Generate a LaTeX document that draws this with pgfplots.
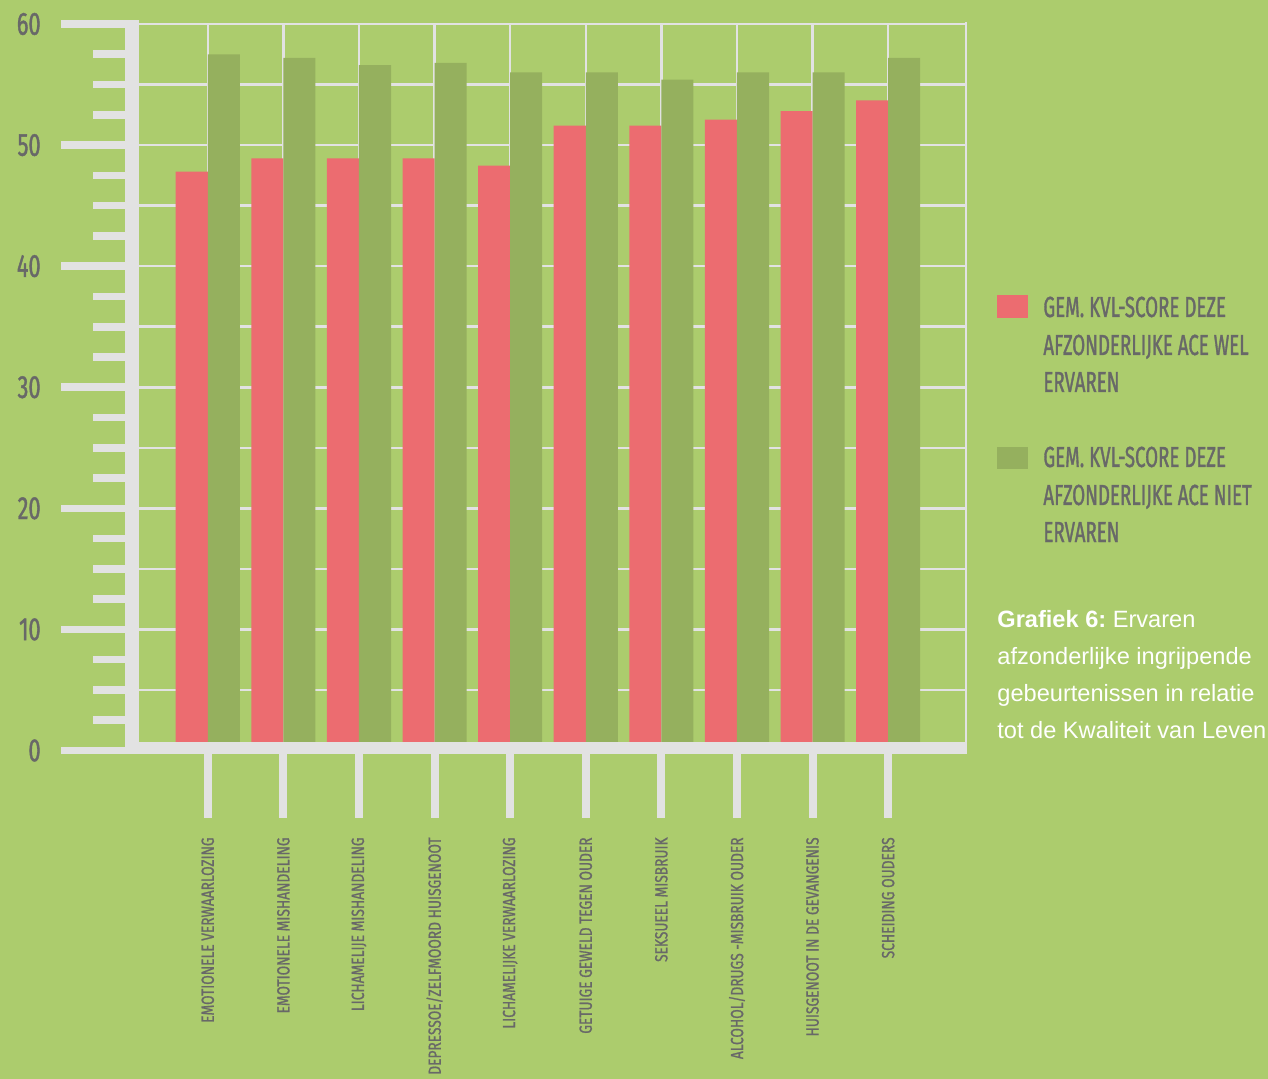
\documentclass[border=0pt]{standalone}
\usepackage{pgfplots}
\pgfplotsset{compat=1.18}
\usepackage{fontspec}
\setmainfont{Liberation Sans}
\newfontfamily\numfont[FakeStretch=0.68,FakeBold=1.2]{Fira Sans}
\newfontfamily\catfont[FakeStretch=0.78,FakeBold=1]{Fira Sans}
\newfontfamily\legfont[FakeStretch=0.645,FakeBold=1.2]{Fira Sans}
\frenchspacing

\definecolor{bg}{RGB}{172,204,109}
\definecolor{barred}{RGB}{236,108,112}
\definecolor{bargreen}{RGB}{149,176,94}
\definecolor{gridgray}{RGB}{226,226,226}
\definecolor{txt}{RGB}{104,104,104}

\begin{document}
\begin{tikzpicture}
\useasboundingbox (0,0) rectangle (634pt,-539.5pt);
\fill[bg] (0,0) rectangle (634pt,-539.5pt);

\begin{axis}[
    at={(69.5pt,-375.25pt)}, anchor=south west,
    scale only axis, width=413.5pt, height=363.25pt,
    xmin=-0.91, xmax=10.03, ymin=0, ymax=60,
    ybar=0pt, bar width=0.424,
    axis line style={draw=none},
    tick style={draw=none},
    major tick length=0pt, minor tick length=0pt,
    xtick={0,...,9},
    xticklabels={EMOTIONELE VERWAARLOZING, EMOTIONELE MISHANDELING,
        LICHAMELIJE MISHANDELING, DEPRESSOE/ZELFMOORD HUISGENOOT,
        LICHAMELIJKE VERWAARLOZING, GETUIGE GEWELD TEGEN OUDER,
        SEKSUEEL MISBRUIK, ALCOHOL/DRUGS -MISBRUIK OUDER,
        HUISGENOOT IN DE GEVANGENIS, SCHEIDING OUDERS},
    ytick={0,10,...,60}, minor ytick={5,15,...,55},
    xmajorgrids, ymajorgrids, yminorgrids,
    major grid style={line width=1.25pt, draw=gridgray},
    minor grid style={line width=1.25pt, draw=gridgray},
    xticklabel style={rotate=90, anchor=east, inner sep=0pt,
        font=\catfont\fontsize{8.8}{10}\selectfont, text=txt},
    yticklabel style={anchor=east, inner sep=0pt,
        font=\numfont\fontsize{16}{18}\selectfont, text=txt},
    xticklabel shift=43.25pt, yticklabel shift=49pt,
    /pgf/number format/assume math mode=true,
]
\addplot[fill=barred, draw=none] coordinates {
    (0,47.8) (1,48.9) (2,48.9) (3,48.9) (4,48.3)
    (5,51.6) (6,51.6) (7,52.1) (8,52.8) (9,53.7)};
\addplot[fill=bargreen, draw=none] coordinates {
    (0,57.5) (1,57.2) (2,56.6) (3,56.8) (4,56.0)
    (5,56.0) (6,55.4) (7,56.0) (8,56.0) (9,57.2)};
\end{axis}

\begin{scope}[x=0.5pt, y=-0.5pt]
  % frame, axes and tick marks
  \draw[gridgray, line width=1.25pt] (966,22) -- (966,748);
  \fill[gridgray] (125,20) rectangle (139,754);
  \fill[gridgray] (125,742) rectangle (967,754);
  \foreach \v in {10,20,...,60}
    \fill[gridgray] (61,{750.5-12.108*\v-3.8}) rectangle (125,{750.5-12.108*\v+3.8});
  \fill[gridgray] (61,747) rectangle (125,754);
  \foreach \v in {2.5,5,7.5,12.5,15,17.5,22.5,25,27.5,32.5,35,37.5,42.5,45,47.5,52.5,55,57.5}
    \fill[gridgray] (93,{750.5-12.108*\v-3.8}) rectangle (125,{750.5-12.108*\v+3.8});
  \foreach \i in {0,...,9}
    \fill[gridgray] ({207.7+75.6*\i-4},754) rectangle ({207.7+75.6*\i+4},818);

  % legend
  \fill[barred] (997,295) rectangle (1028,318);
  \fill[bargreen] (997,447) rectangle (1028,469);
  \begin{scope}[every node/.style={anchor=base west, inner sep=0pt, text=txt,
      font=\legfont\fontsize{14.5}{16}\selectfont}]
    \node at (1043,317) {GEM. KVL-SCORE DEZE};
    \node at (1043,355) {AFZONDERLIJKE ACE WEL};
    \node at (1043,392) {ERVAREN};
    \node at (1043,467) {GEM. KVL-SCORE DEZE};
    \node at (1043,505) {AFZONDERLIJKE ACE NIET};
    \node at (1043,542) {ERVAREN};
  \end{scope}

  % caption
  \begin{scope}[every node/.style={anchor=base west, inner sep=0pt, text=white,
      font=\fontsize{11.8}{14}\selectfont}]
    \node at (997,627) {\textbf{Grafiek 6:} Ervaren};
    \node at (997,664) {afzonderlijke ingrijpende};
    \node at (997,701) {gebeurtenissen in relatie};
    \node at (997,738) {tot de Kwaliteit van Leven};
  \end{scope}
\end{scope}
\end{tikzpicture}
\end{document}
